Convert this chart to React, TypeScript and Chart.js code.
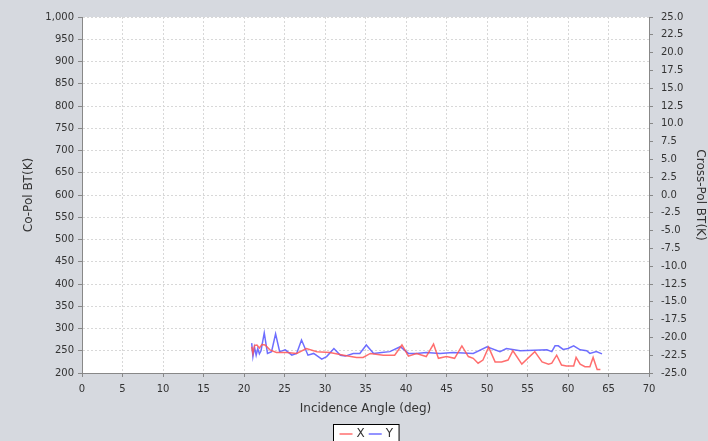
import React, { useEffect, useRef } from "react";
import { Chart, registerables } from "chart.js";

Chart.register(...registerables);

// ---- Data ----
const seriesNames = ["X", "Y"];

const xAngles = [20.95, 21.1, 21.3, 21.6, 21.9, 22.2, 22.6, 23.2, 24.0, 25.3, 26.5, 27.7, 29.0, 30.6, 32.3, 33.9, 34.7, 35.6, 37.2, 38.6, 39.5, 40.3, 41.3, 42.5, 43.4, 44.0, 45.0, 46.0, 46.9, 47.7, 48.3, 48.9, 49.5, 50.2, 51.0, 51.8, 52.6, 53.2, 54.3, 55.9, 56.8, 57.6, 58.0, 58.6, 59.2, 59.8, 60.7, 61.0, 61.5, 62.1, 62.7, 63.1, 63.6, 64.0];
const xValues = [259, 244, 262, 263, 256, 264, 263, 252, 246, 246, 244, 255, 248, 246, 240, 235, 235, 244, 240, 240, 263, 238, 244, 237, 265, 233, 237, 233, 261, 237, 233, 222, 229, 258, 225, 225, 229, 250, 220, 248, 225, 220, 222, 240, 218, 216, 216, 235, 220, 214, 214, 235, 208, 208];

const yAngles = [20.95, 21.1, 21.3, 21.5, 21.7, 21.9, 22.1, 22.5, 22.9, 23.4, 23.9, 24.4, 25.1, 25.9, 26.5, 27.1, 27.9, 28.6, 29.6, 30.2, 31.1, 31.9, 32.5, 33.5, 34.3, 35.1, 36.0, 37.0, 38.0, 39.3, 40.3, 41.3, 42.5, 44.2, 45.8, 48.3, 50.0, 51.6, 52.4, 54.1, 57.4, 58.0, 58.4, 58.8, 59.4, 60.0, 60.7, 61.5, 62.3, 62.7, 63.5, 64.2];
const yValues = [267, 237, 258, 240, 255, 243, 250, 290, 244, 248, 288, 248, 252, 240, 244, 274, 240, 244, 231, 237, 255, 240, 238, 244, 244, 263, 244, 246, 248, 259, 244, 244, 246, 244, 246, 244, 259, 248, 255, 250, 252, 248, 261, 261, 253, 255, 261, 252, 250, 244, 248, 243];

const angleRange = [0, 70, 5];
const coPolRange = [200, 1000, 50];
const crossPolRange = [-25, 25, 2.5];

const seriesColors = ["rgba(255,85,85,0.85)", "rgba(85,85,255,0.85)"];
const FONT = "'DejaVu Sans', sans-serif";
const TEXT = "#333333";

const toPoints = (xs: number[], ys: number[]) => xs.map((x, i) => ({ x, y: ys[i] }));

const bgPlugin = {
  id: "jfreeBg",
  beforeDraw(chart: any) {
    const { ctx, chartArea: a, width, height } = chart;
    ctx.save();
    ctx.fillStyle = "#d6d9df";
    ctx.fillRect(0, 0, width, height);
    ctx.fillStyle = "#ffffff";
    ctx.fillRect(a.left, a.top, a.right - a.left, a.bottom - a.top);
    ctx.restore();
  },
  afterDraw(chart: any) {
    const { ctx, chartArea: a } = chart;
    ctx.save();
    ctx.font = `12px ${FONT}`;
    const lineLen = 13;
    const gap = 4;
    const pad = 6;
    const widths = seriesNames.map((n) => ctx.measureText(n).width);
    let total = pad * 2;
    widths.forEach((w, i) => {
      total += lineLen + gap + w + (i < widths.length - 1 ? gap : 0);
    });
    const cx = (a.left + a.right) / 2;
    const left = Math.round(cx - total / 2) + 0.5;
    const top = 424.5;
    const h = 19;
    ctx.fillStyle = "#ffffff";
    ctx.fillRect(left, top, total, h);
    ctx.strokeStyle = "#000000";
    ctx.lineWidth = 1;
    ctx.strokeRect(left, top, total, h);
    let x = left + pad;
    const cy = top + h / 2;
    seriesNames.forEach((n, i) => {
      ctx.strokeStyle = seriesColors[i];
      ctx.lineWidth = 1.5;
      ctx.beginPath();
      ctx.moveTo(x, cy);
      ctx.lineTo(x + lineLen, cy);
      ctx.stroke();
      x += lineLen + gap;
      ctx.fillStyle = TEXT;
      ctx.textBaseline = "middle";
      ctx.textAlign = "left";
      ctx.fillText(n, x, cy);
      x += widths[i] + gap;
    });
    ctx.restore();
  },
};

export default function App() {
  const ref = useRef<HTMLCanvasElement | null>(null);

  useEffect(() => {
    if (!ref.current) return;
    Chart.defaults.font.family = FONT;
    const gridCommon = {
      color: "#d8d8d8",
      tickColor: "#888888",
      tickBorderDash: [],
      tickLength: 4,
      lineWidth: 1,
    };
    const borderCommon = { display: true, color: "#888888", dash: [2, 2] };
    const chart = new Chart(ref.current, {
      type: "line",
      data: {
        datasets: [
          {
            label: seriesNames[0],
            data: toPoints(xAngles, xValues),
            borderColor: seriesColors[0],
            backgroundColor: seriesColors[0],
            borderWidth: 1.5,
            pointRadius: 0,
            tension: 0,
            yAxisID: "y",
          },
          {
            label: seriesNames[1],
            data: toPoints(yAngles, yValues),
            borderColor: seriesColors[1],
            backgroundColor: seriesColors[1],
            borderWidth: 1.5,
            pointRadius: 0,
            tension: 0,
            yAxisID: "y",
          },
        ],
      },
      options: {
        animation: false,
        responsive: false,
        devicePixelRatio: 1,
        layout: { padding: { left: 18, right: 0, top: 17, bottom: 22 } },
        plugins: { legend: { display: false }, tooltip: { enabled: false } },
        scales: {
          x: {
            type: "linear",
            position: "bottom",
            min: angleRange[0],
            max: angleRange[1],
            grid: gridCommon,
            border: borderCommon,
            ticks: {
              stepSize: angleRange[2],
              autoSkip: false,
              maxRotation: 0,
              padding: 6,
              color: TEXT,
              font: { size: 10, family: FONT },
            },
            title: {
              display: true,
              text: "Incidence Angle (deg)",
              color: TEXT,
              font: { size: 12, family: FONT },
              padding: { top: 4, bottom: 3 },
            },
            afterFit: (s: any) => {
              s.height = 46;
            },
          },
          y: {
            type: "linear",
            position: "left",
            min: coPolRange[0],
            max: coPolRange[1],
            grid: gridCommon,
            border: borderCommon,
            ticks: {
              stepSize: coPolRange[2],
              autoSkip: false,
              padding: 4,
              color: TEXT,
              font: { size: 10, family: FONT },
              callback: (v: any) => Number(v).toLocaleString("en-US"),
            },
            title: {
              display: true,
              text: "Co-Pol BT(K)",
              color: TEXT,
              font: { size: 12, family: FONT },
              padding: { top: 4, bottom: 4 },
            },
            afterFit: (s: any) => {
              s.width = 64;
            },
          },
          y2: {
            type: "linear",
            position: "right",
            min: crossPolRange[0],
            max: crossPolRange[1],
            grid: { ...gridCommon, drawOnChartArea: false },
            border: borderCommon,
            ticks: {
              stepSize: crossPolRange[2],
              autoSkip: false,
              padding: 8,
              color: TEXT,
              font: { size: 10, family: FONT },
              callback: (v: any) => Number(v).toFixed(1),
            },
            title: {
              display: true,
              text: "Cross-Pol BT(K)",
              color: TEXT,
              font: { size: 12, family: FONT },
              padding: { top: 1, bottom: 1 },
            },
            afterFit: (s: any) => {
              s.width = 59;
            },
          },
        },
      },
      plugins: [bgPlugin],
    } as any);
    return () => chart.destroy();
  }, []);

  return (
    <div style={{ position: "fixed", left: 0, top: 0, width: 708, height: 441, background: "#d6d9df" }}>
      <canvas ref={ref} width={708} height={441} style={{ display: "block", width: 708, height: 441 }} />
    </div>
  );
}
